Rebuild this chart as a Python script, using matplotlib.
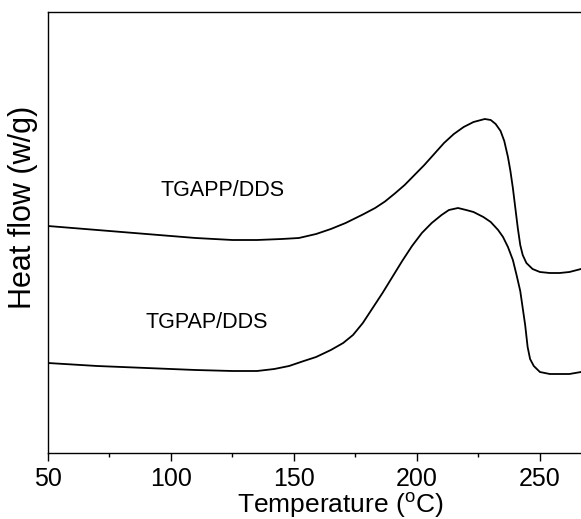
import matplotlib
matplotlib.use('Agg')
import matplotlib.pyplot as plt
from matplotlib.ticker import MultipleLocator

plt.rcParams['font.family'] = ['Liberation Sans', 'DejaVu Sans']
plt.rcParams['mathtext.fontset'] = 'custom'
plt.rcParams['mathtext.rm'] = 'Liberation Sans'

# TGAPP/DDS curve (temperature in C, heat flow in arbitrary units)
tgapp_t = [50, 65, 80, 95, 110, 125, 135, 145, 152, 159, 165, 171, 178, 183,
           187, 191, 195, 199, 203, 207, 211, 215, 219, 223, 227.6, 230,
           232, 234, 235.5, 237, 238, 239, 240, 241, 242, 243, 244.5, 247, 250,
           254, 258, 262, 266.7]
tgapp_hf = [2.27, 2.24, 2.21, 2.18, 2.15, 2.13, 2.13, 2.14, 2.15, 2.19, 2.24,
            2.30, 2.385, 2.45, 2.515, 2.595, 2.68, 2.78, 2.88, 2.99, 3.10,
            3.19, 3.26, 3.31, 3.34, 3.33, 3.29, 3.22, 3.12, 2.96, 2.82, 2.65,
            2.45, 2.25, 2.08, 1.98, 1.90, 1.84, 1.81, 1.80, 1.80, 1.81, 1.84]

# TGPAP/DDS curve
tgpap_t = [50, 70, 90, 110, 125, 135, 142, 148, 154, 159, 165, 170, 174, 178,
           182, 186, 190, 194, 198, 202, 206, 210, 213, 216.7, 220, 223, 227,
           230, 233, 235, 237, 239, 240.5, 242, 243, 244, 245, 246, 247.5, 250,
           254, 258, 262, 266.7]
tgpap_hf = [0.90, 0.87, 0.85, 0.83, 0.82, 0.82, 0.84, 0.87, 0.92, 0.96, 1.03,
            1.10, 1.18, 1.30, 1.45, 1.60, 1.76, 1.92, 2.07, 2.20, 2.30, 2.38,
            2.43, 2.45, 2.43, 2.41, 2.36, 2.31, 2.23, 2.16, 2.06, 1.93, 1.78,
            1.62, 1.45, 1.28, 1.06, 0.94, 0.87, 0.81, 0.79, 0.79, 0.79, 0.81]

labels = ['TGAPP/DDS', 'TGPAP/DDS']
label_t = [121.1, 114.6]
label_hf = [2.63, 1.31]

fig = plt.figure(figsize=(5.81, 5.19), dpi=100)
ax = fig.add_axes([48 / 581, 66 / 519, 533 / 581, 441 / 519])

ax.plot(tgapp_t, tgapp_hf, color='black', lw=1.3)
ax.plot(tgpap_t, tgpap_hf, color='black', lw=1.3)

for txt, x, y in zip(labels, label_t, label_hf):
    ax.text(x, y, txt, fontsize=15.5, ha='center', va='center')

ax.set_xlim(50, 266.7)
ax.set_ylim(0, 4.41)
ax.xaxis.set_major_locator(MultipleLocator(50))
ax.xaxis.set_minor_locator(MultipleLocator(25))
ax.tick_params(axis='x', which='major', direction='out', length=6, width=1,
               labelsize=18, pad=4)
ax.tick_params(axis='x', which='minor', direction='out', length=3, width=1)
ax.set_yticks([])
ax.spines['right'].set_visible(False)
for s in ['left', 'bottom', 'top']:
    ax.spines[s].set_linewidth(1.0)

ax.set_xlabel(r'Temperature ($^{\rm o}$C)', fontsize=19)
ax.xaxis.set_label_coords(0.548, -0.085)
ax.xaxis.label.set_va('top')
ax.set_ylabel('Heat flow (w/g)', fontsize=22)
ax.yaxis.set_label_coords(-0.018, 0.556)

fig.savefig('out.png', dpi=100)
